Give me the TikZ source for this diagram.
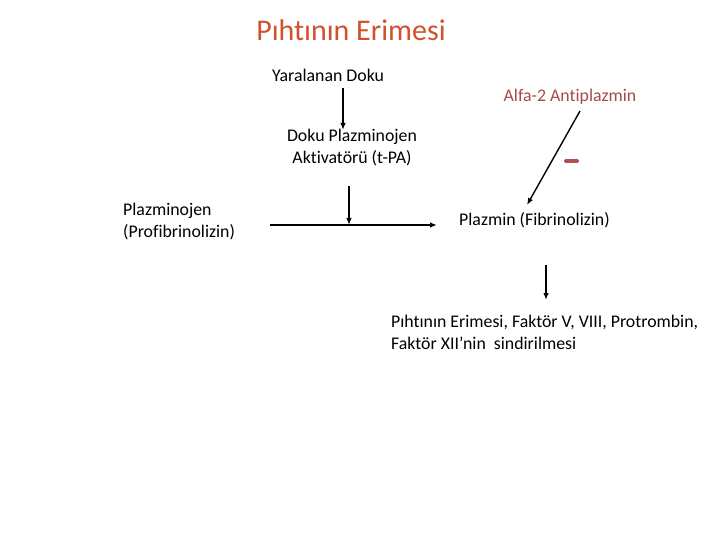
\documentclass[tikz,border=0pt]{standalone}
\usepackage{fontspec}
\setmainfont[Ligatures=NoCommon]{Carlito}
\usetikzlibrary{arrows.meta}
\definecolor{titlecol}{HTML}{D2502E}
\definecolor{inhcol}{HTML}{A5494B}
\definecolor{minuscol}{HTML}{B0504F}
\tikzset{
  lbl/.style={font=\fontsize{17.8}{22}\selectfont, align=left, inner sep=0pt},
  arr/.style={line width=1.4pt, -{Latex[length=7pt,width=5.5pt]}},
}
\begin{document}
\begin{tikzpicture}[x=1pt,y=-1pt]
\useasboundingbox (0,0) rectangle (720,540);
\node[font=\fontsize{30}{34}\selectfont, text=titlecol, inner sep=0pt] (title) at (351,30) {Pıhtının Erimesi};
\node[lbl, anchor=west] (yd) at (272,75) {Yaralanan Doku};
\node[lbl, align=center] (tpa) at (352,148) {Doku Plazminojen\\Aktivatörü (t-PA)};
\node[lbl, anchor=west] (plg) at (123,222) {Plazminojen\\(Profibrinolizin)};
\node[lbl, anchor=west] (plm) at (459,220) {Plazmin (Fibrinolizin)};
\node[lbl, text=inhcol] (a2ap) at (570,97) {Alfa-2 Antiplazmin};
\node[lbl, anchor=west] (res) at (391,332) {Pıhtının Erimesi, Faktör V, VIII, Protrombin,\\Faktör XII’nin\ \ sindirilmesi};
% connectors
\coordinate (a1s) at (343,88);
\coordinate (a1e) at (343,130);
\draw[arr] (a1s) -- (a1e);
\coordinate (hs) at (270,225);
\coordinate (he) at (437,225);
\draw[arr] (hs) -- (he);
\coordinate (vs) at (349,186);
\coordinate (ve) at (349,225);
\draw[arr] (vs) -- (ve);
\coordinate (ds) at (580,111);
\coordinate (de) at (527,205);
\draw[arr] (ds) -- (de);
\coordinate (bs) at (546,265);
\coordinate (be) at (546,300);
\draw[arr] (bs) -- (be);
\draw[minuscol, line width=4pt, line cap=round] (566,161) -- (577,161);
\end{tikzpicture}
\end{document}
